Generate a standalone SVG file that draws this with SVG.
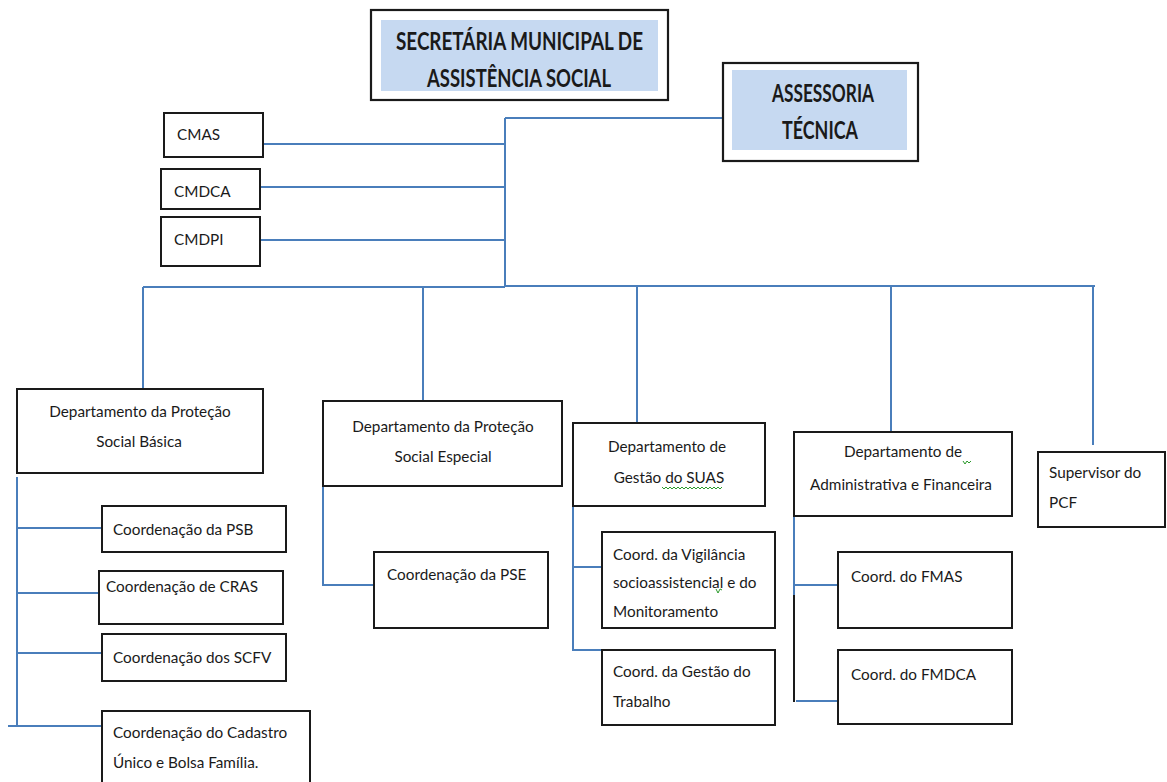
<svg xmlns="http://www.w3.org/2000/svg" width="1167" height="782" viewBox="0 0 1167 782">
<style>
.box{fill:#fff;stroke:#1a1a1a;stroke-width:2}
.tbox{fill:#fff;stroke:#1a1a1a;stroke-width:2.2}
.fillb{fill:#c6d9f1;stroke:none}
.ln{stroke:#4a7ebb;stroke-width:2;fill:none}
.lk{stroke:#1a1a1a;stroke-width:2;fill:none}
.sq{stroke:#2a9a2a;stroke-width:1;fill:none}
.t{font-family:Lato,"Liberation Sans",sans-serif;font-size:15.3px;fill:#1a1a1a}
.c{text-anchor:middle}
.h{font-family:Lato,"Liberation Sans",sans-serif;font-size:24px;font-weight:bold;fill:#1a1a1a;text-anchor:middle}
</style>
<rect width="1167" height="782" fill="#fff"/>
<g id="connectors">
<path class="ln" d="M505,118 V287 M505,118 H723"/>
<path class="ln" d="M263,144 H505 M260,187 H505 M260,240 H505"/>
<path class="ln" d="M143,287 H505 M505,286 H1095"/>
<path class="ln" d="M143,287 V389 M423,287 V401 M637,286 V423 M891,286 V432 M1093,285 V445"/>
<path class="ln" d="M17,477 V727 M17,528 H102 M17,593 H104 M17,653 H102 M8,726 H102"/>
<path class="ln" d="M323,486 V585 H374"/>
<path class="ln" d="M573,506 V650 H602 M573,567 H602"/>
<path class="ln" d="M794,516 V595 M794,585 H838 M796,701 H838"/>
<path class="lk" d="M794,595 V702"/>
</g>
<g id="secretaria">
<rect class="tbox" x="371" y="10" width="297" height="90"/>
<rect class="fillb" x="381" y="20" width="277" height="71"/>
<text class="h" x="519.5" y="50" textLength="247" lengthAdjust="spacingAndGlyphs">SECRETÁRIA MUNICIPAL DE</text>
<text class="h" x="519" y="87" textLength="184" lengthAdjust="spacingAndGlyphs">ASSISTÊNCIA SOCIAL</text>
</g>
<g id="assessoria">
<rect class="tbox" x="723" y="63" width="195" height="98"/>
<rect class="fillb" x="732" y="70" width="175" height="80"/>
<text class="h" x="823" y="102" textLength="102" lengthAdjust="spacingAndGlyphs">ASSESSORIA</text>
<text class="h" x="820" y="139" textLength="76" lengthAdjust="spacingAndGlyphs">TÉCNICA</text>
</g>
<g id="cmas">
<rect class="box" x="164" y="113" width="99" height="44"/>
<text class="t" x="177" y="140">CMAS</text>
</g>
<g id="cmdca">
<rect class="box" x="161" y="169" width="99" height="40"/>
<text class="t" x="174" y="197">CMDCA</text>
</g>
<g id="cmdpi">
<rect class="box" x="161" y="217" width="99" height="49"/>
<text class="t" x="174" y="245">CMDPI</text>
</g>
<g id="dept-psb">
<rect class="box" x="17" y="389" width="246" height="84"/>
<text class="t c" x="140" y="417">Departamento da Proteção</text>
<text class="t c" x="139" y="447">Social Básica</text>
</g>
<g id="dept-pse">
<rect class="box" x="323" y="401" width="239" height="85"/>
<text class="t c" x="443" y="432">Departamento da Proteção</text>
<text class="t c" x="443" y="462">Social Especial</text>
</g>
<g id="dept-suas">
<rect class="box" x="573" y="423" width="192" height="83"/>
<text class="t c" x="667" y="452">Departamento de</text>
<text class="t c" x="669" y="483">Gestão do SUAS</text>
<path class="sq" d="M662,487 l2,2 l2,-2 l2,2 l2,-2 l2,2 l2,-2 l2,2 l2,-2 l2,2 l2,-2 l2,2 l2,-2 l2,2 l2,-2 l2,2 l2,-2 l2,2 l2,-2 l2,2 l2,-2 l2,2 l2,-2 l2,2 l2,-2 l2,2 l2,-2 l2,2 l2,-2 l2,2 l2,-2"/>
</g>
<g id="dept-adm">
<rect class="box" x="794" y="432" width="218" height="84"/>
<text class="t c" x="903" y="457">Departamento de</text>
<text class="t c" x="901" y="490">Administrativa e Financeira</text>
<path class="sq" d="M963,461 l2,3 l2,-3 l2,2 l2,-2"/>
</g>
<g id="supervisor">
<rect class="box" x="1038" y="452" width="127" height="75"/>
<text class="t" x="1049" y="478">Supervisor do</text>
<text class="t" x="1049" y="508">PCF</text>
</g>
<g id="coord-psb">
<rect class="box" x="102" y="506" width="184" height="46"/>
<text class="t" x="113" y="535">Coordenação da PSB</text>
</g>
<g id="coord-cras">
<rect class="box" x="99" y="571" width="184" height="53"/>
<text class="t" x="106" y="592">Coordenação de CRAS</text>
</g>
<g id="coord-scfv">
<rect class="box" x="102" y="634" width="184" height="47"/>
<text class="t" x="113" y="663">Coordenação dos SCFV</text>
</g>
<g id="coord-cadastro">
<rect class="box" x="102" y="711" width="208" height="90"/>
<text class="t" x="113" y="738">Coordenação do Cadastro</text>
<text class="t" x="113" y="768">Único e Bolsa Família.</text>
</g>
<g id="coord-pse">
<rect class="box" x="374" y="552" width="174" height="76"/>
<text class="t" x="387" y="580">Coordenação da PSE</text>
</g>
<g id="coord-vigilancia">
<rect class="box" x="602" y="532" width="173" height="96"/>
<text class="t" x="613" y="560">Coord. da Vigilância</text>
<text class="t" x="613" y="588">socioassistencial e do</text>
<text class="t" x="613" y="617">Monitoramento</text>
<path class="sq" d="M716,589 l2,4 l2,-4 l2,1"/>
</g>
<g id="coord-trabalho">
<rect class="box" x="602" y="650" width="173" height="75"/>
<text class="t" x="613" y="677">Coord. da Gestão do</text>
<text class="t" x="613" y="707">Trabalho</text>
</g>
<g id="coord-fmas">
<rect class="box" x="838" y="552" width="174" height="76"/>
<text class="t" x="851" y="582">Coord. do FMAS</text>
</g>
<g id="coord-fmdca">
<rect class="box" x="838" y="650" width="174" height="74"/>
<text class="t" x="851" y="680">Coord. do FMDCA</text>
</g>
</svg>
